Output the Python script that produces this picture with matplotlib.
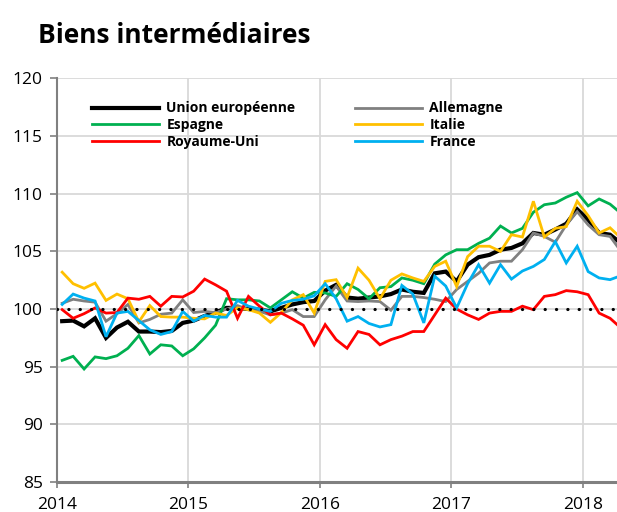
import matplotlib
matplotlib.use("Agg")
import matplotlib.pyplot as plt
import numpy as np

font = {"family": "Open Sans", "size": 12.5}
matplotlib.rc("font", **font)

# monthly index values, Jan 2014 -> Apr 2018
union_europeenne = [98.95, 99.0, 98.5, 99.2, 97.5, 98.4, 98.9, 98.05, 98.05, 98.0,
                    98.1, 98.8, 99.0, 99.4, 99.7, 100.1, 100.1, 100.0, 99.95, 99.8,
                    100.1, 100.4, 100.6, 100.7, 101.6, 102.1, 101.0, 100.9, 101.0, 101.1,
                    101.3, 101.7, 101.5, 101.4, 103.1, 103.25, 102.4, 103.85, 104.5, 104.7,
                    105.15, 105.3, 105.7, 106.6, 106.45, 106.9, 107.4, 108.65, 107.75, 106.6,
                    106.45, 105.7]
allemagne = [100.5, 100.85, 100.7, 100.6, 98.95, 99.6, 100.4, 98.8, 99.1, 99.55,
             99.65, 100.8, 99.7, 99.8, 99.7, 100.0, 100.3, 99.95, 99.8, 99.5,
             99.65, 99.95, 99.35, 99.35, 100.8, 102.0, 100.7, 100.65, 100.7, 100.65,
             99.9, 101.1, 101.1, 101.0, 100.85, 100.65, 101.7, 102.4, 103.1, 104.0,
             104.15, 104.15, 105.15, 106.6, 106.3, 105.8, 107.3, 108.45, 107.3, 106.45,
             106.3, 105.0]
espagne = [95.55, 95.9, 94.8, 95.85, 95.7, 95.95, 96.6, 97.7, 96.1, 96.9,
           96.8, 95.95, 96.55, 97.5, 98.6, 100.9, 100.8, 100.8, 100.7, 100.1,
           100.8, 101.5, 100.95, 101.45, 101.4, 101.1, 102.2, 101.7, 100.9, 101.85,
           101.95, 102.7, 102.5, 102.2, 103.9, 104.7, 105.15, 105.15, 105.7, 106.15,
           107.2, 106.6, 107.0, 108.4, 109.05, 109.2, 109.7, 110.1, 108.95, 109.55,
           109.1, 108.3]
italie = [103.2, 102.2, 101.8, 102.25, 100.75, 101.3, 100.9, 98.9, 100.3, 99.35,
          99.3, 99.3, 99.2, 99.15, 99.65, 99.45, 100.1, 99.95, 99.65, 98.85,
          99.7, 100.8, 101.25, 99.65, 102.4, 102.55, 101.0, 103.55, 102.5, 100.9,
          102.5, 103.05, 102.7, 102.4, 103.7, 104.15, 101.95, 104.55, 105.45, 105.45,
          105.0, 106.45, 106.25, 109.35, 106.25, 107.0, 107.15, 109.35, 108.1, 106.6,
          107.05, 106.15]
royaume_uni = [99.95, 99.2, 99.6, 100.1, 99.65, 99.7, 100.95, 100.85, 101.1, 100.25,
               101.1, 101.05, 101.55, 102.6, 102.1, 101.55, 99.2, 101.1, 100.25, 99.5,
               99.65, 99.15, 98.6, 96.9, 98.65, 97.35, 96.6, 98.05, 97.8, 96.9,
               97.35, 97.65, 98.05, 98.05, 99.5, 100.95, 100.0, 99.5, 99.1, 99.65,
               99.8, 99.8, 100.25, 99.95, 101.1, 101.25, 101.6, 101.5, 101.25, 99.65,
               99.2, 98.35]
france = [100.4, 101.3, 100.95, 100.7, 97.6, 99.65, 99.8, 99.0, 98.2, 97.8,
          98.05, 99.8, 98.95, 99.45, 99.3, 99.3, 100.75, 100.25, 100.0, 99.8,
          100.5, 100.75, 100.85, 101.15, 102.2, 100.9, 98.95, 99.35, 98.75, 98.45,
          98.65, 102.05, 101.3, 98.8, 102.85, 102.0, 100.1, 102.2, 103.85, 102.25,
          103.85, 102.6, 103.3, 103.7, 104.3, 105.85, 104.0, 105.45, 103.25, 102.7,
          102.55, 102.9]

years = [2014, 2015, 2016, 2017, 2018]
yticks = [85, 90, 95, 100, 105, 110, 115, 120]

# months placed at mid-month on a fractional year axis
t = 2014 + (np.arange(len(union_europeenne)) + 0.5) / 12

fig = plt.figure(figsize=(6.17, 5.12), dpi=100)
ax = fig.add_axes([0.0919, 0.0586, 0.9081, 0.7881])

series = [
    ("Union européenne", union_europeenne, "#000000", 3.0),
    ("Allemagne", allemagne, "#808080", 2.0),
    ("Espagne", espagne, "#00b050", 2.0),
    ("Italie", italie, "#ffc000", 2.0),
    ("Royaume-Uni", royaume_uni, "#ff0000", 2.0),
    ("France", france, "#00b0f0", 2.0),
]
handles = {}
for name, vals, col, lw in series:
    (h,) = ax.plot(t, vals, color=col, linewidth=lw, solid_joinstyle="miter", label=name)
    handles[name] = h

ax.axhline(100, color="black", linewidth=2.3, linestyle=(0, (0.05, 3.5)),
           dash_capstyle="round", zorder=5)

ax.set_xlim(2014, 2018.261)
ax.set_ylim(85, 120)
ax.set_xticks(years)
ax.set_yticks(yticks)
ax.grid(color="#d9d9d9", linewidth=1.3)
ax.set_axisbelow(True)

for s in ["top", "right"]:
    ax.spines[s].set_visible(False)
ax.spines["left"].set_color("#808080")
ax.spines["left"].set_linewidth(1.5)
ax.spines["bottom"].set_color("#808080")
ax.spines["bottom"].set_linewidth(2.2)
ax.tick_params(axis="y", colors="#808080", length=5, width=1.2, labelcolor="black", pad=5)
ax.tick_params(axis="x", colors="#808080", length=4, width=1.2, labelcolor="black", pad=7)

order = ["Union européenne", "Espagne", "Royaume-Uni", "Allemagne", "Italie", "France"]
ax.legend([handles[n] for n in order], order, ncol=2, loc="upper left",
          bbox_to_anchor=(0.063, 0.943), frameon=False, borderpad=0, borderaxespad=0,
          handlelength=4.8, handletextpad=0.55, columnspacing=4.3, labelspacing=0.2,
          prop={"family": "Open Sans", "weight": "bold", "size": 10})

fig.text(0.062, 0.93, "Biens intermédiaires", fontsize=19, fontweight="bold",
         ha="left", va="center")

fig.savefig("out.png", dpi=100)
